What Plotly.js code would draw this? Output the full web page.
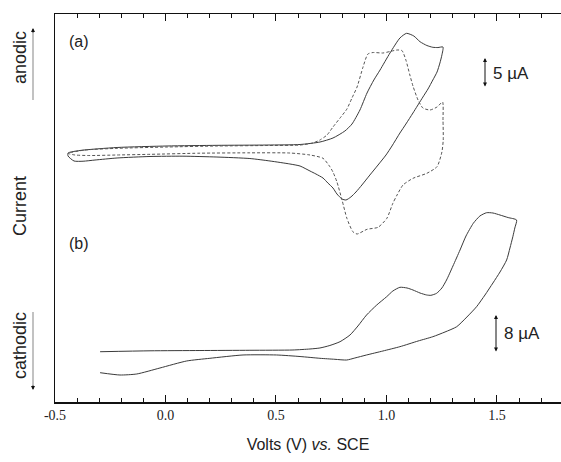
<!DOCTYPE html>
<html>
<head>
<meta charset="utf-8">
<script src="https://cdn.plot.ly/plotly-3.0.1.min.js"></script>
<style>html,body{margin:0;padding:0;background:#fff;}#chart{width:561px;height:462px;}</style>
</head>
<body>
<div id="chart"></div>
<script>
// Panel (a), solid CV: potential (V vs SCE) and current (µA, arbitrary offset)
const aSolidV = [-0.441,-0.387,-0.219,0.007,0.233,0.459,0.609,0.699,0.758,0.812,0.844,0.880,0.912,0.943,0.971,1.016,1.061,1.091,1.124,1.152,1.183,1.210,1.233,1.256,
  1.251,1.242,1.229,1.210,1.188,1.165,1.120,1.088,1.061,1.025,0.998,0.962,0.925,0.889,0.862,0.839,0.817,0.799,0.776,0.758,0.735,0.713,0.681,0.654,0.609,0.563,0.473,0.382,0.233,0.079,-0.070,-0.219,-0.319,-0.373,-0.414,-0.441,-0.441];
const aSolidI = [-0.5,-0.08,0.42,0.67,0.78,0.83,0.92,1.33,2.0,3.17,4.33,6.67,9.5,11.67,13.33,16.17,18.67,19.45,19.0,18.05,17.42,17.12,17.08,17.17,
  15.83,14.5,13.0,11.67,10.17,8.83,6.17,4.33,2.83,0.67,-0.83,-2.5,-4.17,-5.83,-7.0,-7.83,-8.33,-8.17,-7.33,-6.33,-5.5,-4.67,-4.0,-3.5,-2.67,-2.33,-1.83,-1.42,-1.17,-1.03,-1.08,-1.33,-1.67,-1.87,-1.83,-1.0,-0.5];

// Panel (a), dotted CV
const aDotV = [-0.441,-0.364,-0.219,0.007,0.233,0.459,0.609,0.667,0.699,0.731,0.758,0.790,0.821,0.844,0.867,0.894,0.916,0.939,0.984,1.016,1.048,1.070,1.088,1.106,1.120,1.143,1.165,1.197,1.229,1.254,
  1.256,1.257,1.251,1.229,1.183,1.120,1.075,1.048,1.029,1.002,0.962,0.912,0.867,0.848,0.821,0.799,0.776,0.758,0.744,0.713,0.654,0.563,0.382,0.156,-0.070,-0.219,-0.342,-0.410,-0.441];
const aDotI = [-0.55,0,0.28,0.5,0.67,0.75,0.83,1.17,1.67,2.5,3.83,5.33,6.83,8.67,10.5,13.83,16.0,16.25,16.17,16.42,16.67,16.58,15.0,12.5,10.67,8.33,7.0,6.67,7.17,8.0,
  5.0,1.67,-0.33,-2.78,-3.88,-4.72,-5.83,-7.5,-8.88,-11.38,-12.88,-13.22,-14.0,-13.62,-11.38,-8.33,-5.33,-3.67,-2.78,-1.38,-0.83,-0.5,-0.47,-0.53,-0.72,-0.83,-0.92,-0.83,-0.55];

// Panel (b), solid CV
const bV = [-0.296,-0.070,0.156,0.382,0.577,0.654,0.699,0.744,0.790,0.835,0.871,0.910,0.956,1.001,1.029,1.061,1.093,1.120,1.152,1.182,1.201,1.227,1.251,1.272,1.301,1.333,1.360,1.393,1.423,1.453,1.482,1.514,1.550,1.589,
  1.581,1.572,1.559,1.544,1.514,1.482,1.446,1.408,1.364,1.318,1.265,1.210,1.143,1.061,0.984,0.910,0.857,0.820,0.767,0.699,0.609,0.503,0.351,0.201,0.096,-0.025,-0.130,-0.206,-0.296];
const bI = [-0.15,0.04,0.10,0.15,0.21,0.42,0.63,1.15,1.94,3.33,5.21,7.5,9.58,11.31,12.5,13.27,13.13,12.71,12.08,11.67,11.6,12.02,13.13,14.79,17.71,21.04,23.96,26.6,28.13,28.81,28.75,28.33,27.81,27.29,
  25.63,23.81,21.46,18.96,16.46,14.17,11.67,9.23,7.08,5.06,3.96,2.98,2.08,0.90,0,-0.83,-1.46,-1.88,-1.73,-1.52,-1.15,-0.83,-0.83,-1.52,-2.08,-3.54,-4.79,-5.0,-4.52];

const xTickVals = [-0.5, 0.0, 0.5, 1.0, 1.5];
const xTickText = ['-0.5', '0.0', '0.5', '1.0', '1.5'];

const lineCol = '#3a3a3a';
const traces = [
  {x: aSolidV, y: aSolidI, xaxis: 'x', yaxis: 'y', mode: 'lines', line: {color: lineCol, width: 1, shape: 'spline', smoothing: 0.6}, hoverinfo: 'skip'},
  {x: aDotV, y: aDotI, xaxis: 'x', yaxis: 'y', mode: 'lines', line: {color: '#555', width: 1, dash: '3px,2px', shape: 'spline', smoothing: 0.6}, hoverinfo: 'skip'},
  {x: bV, y: bI, xaxis: 'x', yaxis: 'y2', mode: 'lines', line: {color: lineCol, width: 1, shape: 'spline', smoothing: 0.6}, hoverinfo: 'skip'}
];

const sans = 'Liberation Sans, Arial, sans-serif';
const serif = 'Liberation Serif, Times New Roman, serif';

const L = 55, W = 506, T = 14, H = 388;
function px(xp){ return (xp - L) / W; }
function py(yp){ return (T + H - yp) / H; }

function label(xp, yp, text, size, extra){
  return Object.assign({xref: 'paper', yref: 'paper', x: px(xp), y: py(yp), xanchor: 'center', yanchor: 'middle',
    text: text, showarrow: false, font: {family: sans, size: size, color: '#222'}}, extra || {});
}

const layout = {
  width: 561, height: 462,
  margin: {l: L, r: 561 - L - W, t: T, b: 462 - T - H},
  paper_bgcolor: '#fff', plot_bgcolor: '#fff',
  showlegend: false,
  xaxis: {
    range: [-0.5, 1.79], showgrid: false, zeroline: false,
    showline: true, linecolor: '#111', linewidth: 1.5, mirror: 'ticks',
    ticks: 'inside', ticklen: 7, tickwidth: 1, tickcolor: '#111',
    tickvals: xTickVals, ticktext: xTickText,
    minor: {dtick: 0.1, tick0: 0, ticks: 'inside', ticklen: 4, tickwidth: 1, tickcolor: '#111'},
    tickfont: {family: serif, size: 14, color: '#222'},
    title: {text: 'Volts (V) <i>vs.</i> SCE', font: {family: sans, size: 16, color: '#222'}, standoff: 16}
  },
  yaxis: {
    range: [-42, 22.67], showgrid: false, zeroline: false, showticklabels: false, ticks: '',
    showline: true, linecolor: '#111', linewidth: 1.5, mirror: false
  },
  yaxis2: {
    range: [-10.625, 70.21], overlaying: 'y', showgrid: false, zeroline: false,
    showticklabels: false, ticks: '', showline: false
  },
  shapes: [
    {type: 'line', xref: 'paper', yref: 'paper', x0: px(33), x1: px(33), y0: py(100), y1: py(32), line: {color: '#999', width: 1.2}},
    {type: 'line', xref: 'paper', yref: 'paper', x0: px(33), x1: px(33), y0: py(312), y1: py(386), line: {color: '#999', width: 1.2}}
  ],
  annotations: [
    label(20, 58, 'anodic', 18, {textangle: -90}),
    label(20, 206, 'Current', 18, {textangle: -90}),
    label(20, 346, 'cathodic', 18, {textangle: -90}),
    {xref: 'paper', yref: 'paper', x: px(33), y: py(28), ax: 0, ay: 6, text: '', showarrow: true, arrowhead: 2, arrowsize: 0.8, arrowwidth: 1, arrowcolor: '#111'},
    {xref: 'paper', yref: 'paper', x: px(33), y: py(390), ax: 0, ay: -6, text: '', showarrow: true, arrowhead: 2, arrowsize: 0.8, arrowwidth: 1, arrowcolor: '#111'},
    label(67, 42, '(a)', 16, {xanchor: 'left'}),
    label(67, 243, '(b)', 16, {xanchor: 'left'}),
    {xref: 'paper', yref: 'paper', x: px(485), y: py(58), ax: 0, ay: 30, text: '', showarrow: true, arrowhead: 2, startarrowhead: 2, arrowside: 'end+start', arrowsize: 0.8, arrowwidth: 1, arrowcolor: '#111'},
    label(491, 73, '5 µA', 17, {xanchor: 'left'}),
    {xref: 'paper', yref: 'paper', x: px(496), y: py(315), ax: 0, ay: 38, text: '', showarrow: true, arrowhead: 2, startarrowhead: 2, arrowside: 'end+start', arrowsize: 0.8, arrowwidth: 1, arrowcolor: '#111'},
    label(502, 333, '8 µA', 17, {xanchor: 'left'})
  ]
};

Plotly.newPlot('chart', traces, layout, {displayModeBar: false, staticPlot: true});
</script>
</body>
</html>
